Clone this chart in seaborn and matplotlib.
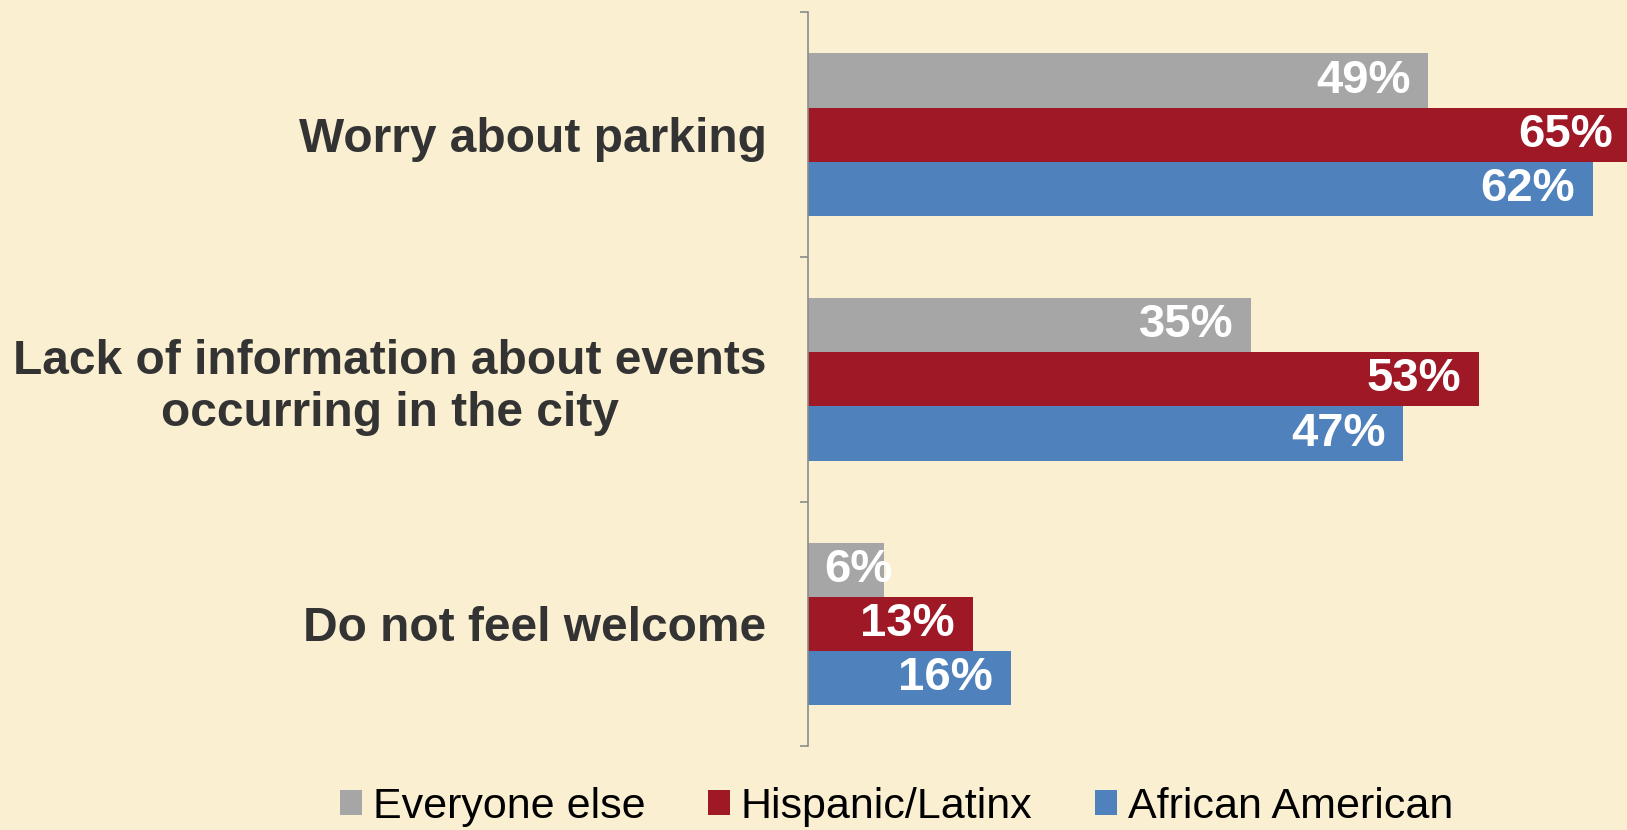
import numpy as np
import pandas as pd
import matplotlib
matplotlib.use("Agg")
import matplotlib.pyplot as plt
import seaborn as sns
from matplotlib.patches import Patch

# data
categories = ["Worry about parking",
              "Lack of information about events\noccurring in the city",
              "Do not feel welcome"]
groups = ["Everyone else", "Hispanic/Latinx", "African American"]
everyone_else = [49, 35, 6]
hispanic_latinx = [65, 53, 13]
african_american = [62, 47, 16]
colors = ["#A6A6A6", "#9E1826", "#4F81BD"]

BG = "#FAEFD1"

df = pd.DataFrame({
    "category": categories * 3,
    "group": [g for g in groups for _ in categories],
    "value": everyone_else + hispanic_latinx + african_american,
})

sns.set_theme(style="white")
plt.rcParams["font.family"] = ["Liberation Sans", "DejaVu Sans"]

fig = plt.figure(figsize=(16.27, 8.30), dpi=100, facecolor=BG)
ax = fig.add_axes([0.4967, 0.101, 0.5033, 0.884])
ax.set_facecolor(BG)

sns.barplot(data=df, y="category", x="value", hue="group", orient="h",
            order=categories, hue_order=groups, palette=colors,
            width=0.665, dodge=True, saturation=1, legend=False,
            edgecolor="none", linewidth=0, ax=ax)

ax.set_xlim(0, 64.7)
ax.set_ylim(2.5, -0.5)
ax.set_xlabel("")
ax.set_ylabel("")
ax.set_xticks([])

# category labels at the centres, tick marks at the boundaries
ax.set_yticks(range(len(categories)))
ax.set_yticklabels(categories, fontsize=34.5, fontweight="bold", color="#333333",
                   multialignment="center")
ax.tick_params(axis="y", which="major", length=0, pad=30)
ax.set_yticks(np.arange(-0.5, len(categories)), minor=True)
ax.tick_params(axis="y", which="minor", length=6, width=1.2, color="#8C8C8C",
               direction="out", left=True)

for side in ["top", "right", "bottom"]:
    ax.spines[side].set_visible(False)
ax.spines["left"].set_color("#8C8C8C")
ax.spines["left"].set_linewidth(1.2)

# white value labels inside the bar ends
for cont in ax.containers:
    for bar in cont:
        v = bar.get_width()
        yc = bar.get_y() + bar.get_height() / 2
        if v < 10:
            ax.text(1.3, yc, f"{v:.0f}%", ha="left", va="center",
                    color="white", fontsize=34, fontweight="bold")
        else:
            ax.text(v - 1.4, yc, f"{v:.0f}%", ha="right", va="center",
                    color="white", fontsize=34, fontweight="bold")

handles = [Patch(facecolor=c, edgecolor="none") for c in colors]
fig.legend(handles, groups, loc="center", bbox_to_anchor=(0.551, 0.028),
           ncol=3, frameon=False, fontsize=31, labelcolor="black",
           handlelength=0.52, handleheight=0.52, handletextpad=0.25,
           columnspacing=1.45, borderpad=0, borderaxespad=0)

fig.savefig("out.png", dpi=100, facecolor=BG)
